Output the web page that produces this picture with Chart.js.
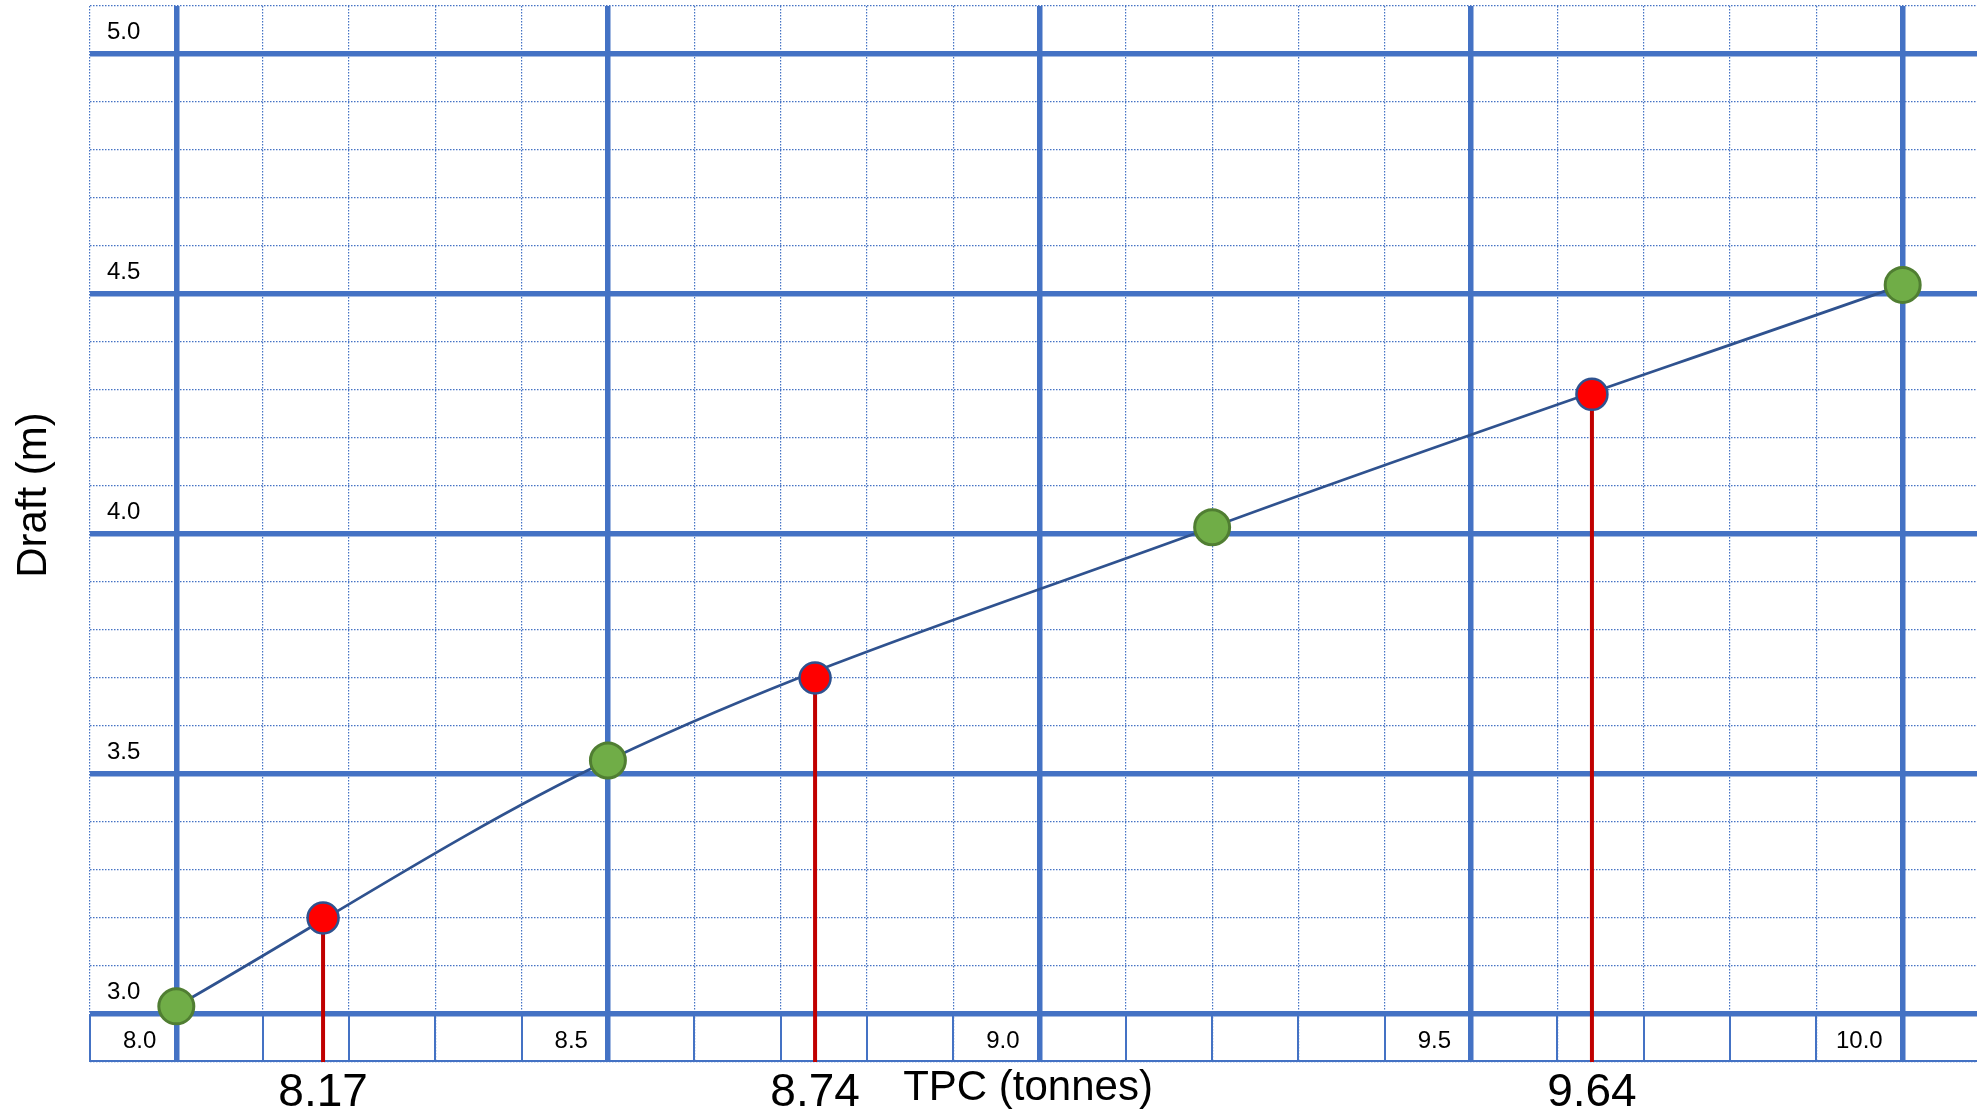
<!DOCTYPE html>
<html>
<head>
<meta charset="utf-8">
<title>Draft vs TPC</title>
<script src="https://cdn.jsdelivr.net/npm/chart.js@4.4.1/dist/chart.umd.min.js"></script>
<style>
  html, body { margin: 0; padding: 0; overflow: hidden; background: #fff; }
  /* a little wider than the window: the right edge of the paper is cut off like in the original */
  #wrap { width: 1989px; height: 1117px; }
</style>
</head>
<body>
<div id="wrap"><canvas id="tpc-chart"></canvas></div>
<script>
// Draft against TPC
const curveTPC = [8.0, 8.5, 9.2, 10.0];
const curveDraft = [3.016, 3.528, 4.014, 4.519];

// readings taken from the curve (red markers)
const readTPC = [8.17, 8.74, 9.64];
const readDraft = [3.2, 3.70, 4.291];

// labelled (heavy) lines of the paper
const xTickValues = [8.0, 8.5, 9.0, 9.5, 10.0];
const xTickLabels = ['8.0', '8.5', '9.0', '9.5', '10.0'];
const yTickValues = [3.0, 3.5, 4.0, 4.5, 5.0];
const yTickLabels = ['3.0', '3.5', '4.0', '4.5', '5.0'];

const tpcMin = 7.9, tpcMax = 10.1;
const draftMin = 2.9, draftMax = 5.1;
const gridStep = 0.1;

const xTitle = 'TPC (tonnes)';
const yTitle = 'Draft (m)';

const blue = '#4472C4';
const fontFamily = '"Liberation Sans", Arial, sans-serif';

function findTick(values, v) {
    return values.findIndex(t => Math.abs(t - v) < 1e-6);
}

const curveData = curveTPC.map((x, i) => ({x: x, y: curveDraft[i]}));
const readData = readTPC.map((x, i) => ({x: x, y: readDraft[i]}));

// vertical drop lines, one segment per reading, null breaks them apart
const dropData = [];
readTPC.forEach((x, i) => {
    dropData.push({x: x, y: readDraft[i]});
    dropData.push({x: x, y: draftMin});
    dropData.push({x: x, y: null});
});

// bottom strip of the paper has solid lines instead of dotted ones
const paperStrip = {
    id: 'paperStrip',
    beforeDatasetsDraw(chart) {
        const {ctx, scales: {x, y}} = chart;
        const yTop = y.getPixelForValue(draftMin + gridStep);
        const yBot = y.getPixelForValue(draftMin);
        ctx.save();
        ctx.strokeStyle = blue;
        ctx.lineWidth = 2;
        ctx.beginPath();
        x.ticks.forEach(t => {
            if (findTick(xTickValues, t.value) >= 0) return;
            const px = Math.round(x.getPixelForValue(t.value));
            ctx.moveTo(px, yTop);
            ctx.lineTo(px, yBot);
        });
        ctx.moveTo(x.left, yBot - 1);
        ctx.lineTo(x.right, yBot - 1);
        ctx.stroke();
        ctx.restore();
    }
};

// reading values under the drop lines and the two axis titles
const readingLabels = {
    id: 'readingLabels',
    afterDraw(chart) {
        const {ctx, scales: {x}} = chart;
        ctx.save();
        ctx.fillStyle = '#000';
        ctx.textAlign = 'center';
        ctx.textBaseline = 'alphabetic';
        ctx.font = '46px ' + fontFamily;
        readTPC.forEach(v => ctx.fillText(v.toFixed(2), x.getPixelForValue(v), 1106));
        ctx.font = '42px ' + fontFamily;
        ctx.fillText(xTitle, 1028, 1100);
        ctx.translate(46, 495);
        ctx.rotate(-Math.PI / 2);
        ctx.fillText(yTitle, 0, 0);
        ctx.restore();
    }
};

Chart.defaults.font.family = fontFamily;

function paperGrid(values) {
    return {
        grid: {
            color: blue,
            lineWidth: ctx => findTick(values, ctx.tick.value) >= 0 ? 5.5 : 1.2,
            drawTicks: false
        },
        border: {
            display: false,
            dash: ctx => findTick(values, ctx.tick.value) >= 0 ? [] : [1.5, 1.5]
        }
    };
}

new Chart(document.getElementById('tpc-chart'), {
    type: 'scatter',
    data: {
        datasets: [
            {
                label: 'Readings',
                data: readData,
                order: 0,
                pointRadius: 15.5,
                pointBackgroundColor: '#FF0000',
                pointBorderColor: '#2F528F',
                pointBorderWidth: 2.5
            },
            {
                label: 'Draft curve',
                data: curveData,
                order: 1,
                showLine: true,
                cubicInterpolationMode: 'monotone',
                borderColor: '#2F528F',
                borderWidth: 2.75,
                pointRadius: 17.5,
                pointBackgroundColor: '#70AD47',
                pointBorderColor: '#507E32',
                pointBorderWidth: 3
            },
            {
                label: 'Drop lines',
                data: dropData,
                order: 2,
                showLine: true,
                spanGaps: false,
                borderColor: '#C00000',
                borderWidth: 4,
                pointRadius: 0
            }
        ]
    },
    options: {
        responsive: true,
        maintainAspectRatio: false,
        animation: false,
        layout: { autoPadding: false, padding: { top: 6, right: 0, bottom: 0, left: 0 } },
        plugins: {
            legend: { display: false },
            tooltip: { enabled: false }
        },
        scales: {
            x: {
                type: 'linear',
                min: tpcMin,
                max: tpcMax,
                ...paperGrid(xTickValues),
                ticks: {
                    stepSize: gridStep,
                    autoSkip: false,
                    maxRotation: 0,
                    mirror: true,
                    align: 'end',
                    labelOffset: -20,
                    padding: 6,
                    color: '#000',
                    font: { size: 24 },
                    callback: v => {
                        const i = findTick(xTickValues, v);
                        return i < 0 ? '' : xTickLabels[i];
                    }
                },
                afterFit: s => {
                    s.height = 55;
                    s.paddingLeft = 0;
                    s.paddingRight = 0;
                }
            },
            y: {
                type: 'linear',
                min: draftMin,
                max: draftMax,
                ...paperGrid(yTickValues),
                ticks: {
                    stepSize: gridStep,
                    autoSkip: false,
                    mirror: true,
                    labelOffset: -22,
                    padding: 17,
                    color: '#000',
                    font: { size: 24 },
                    callback: v => {
                        const i = findTick(yTickValues, v);
                        return i < 0 ? '' : yTickLabels[i];
                    }
                },
                afterFit: s => {
                    s.width = 90;
                    s.paddingTop = 0;
                    s.paddingBottom = 0;
                }
            }
        }
    },
    plugins: [paperStrip, readingLabels]
});
</script>
</body>
</html>
